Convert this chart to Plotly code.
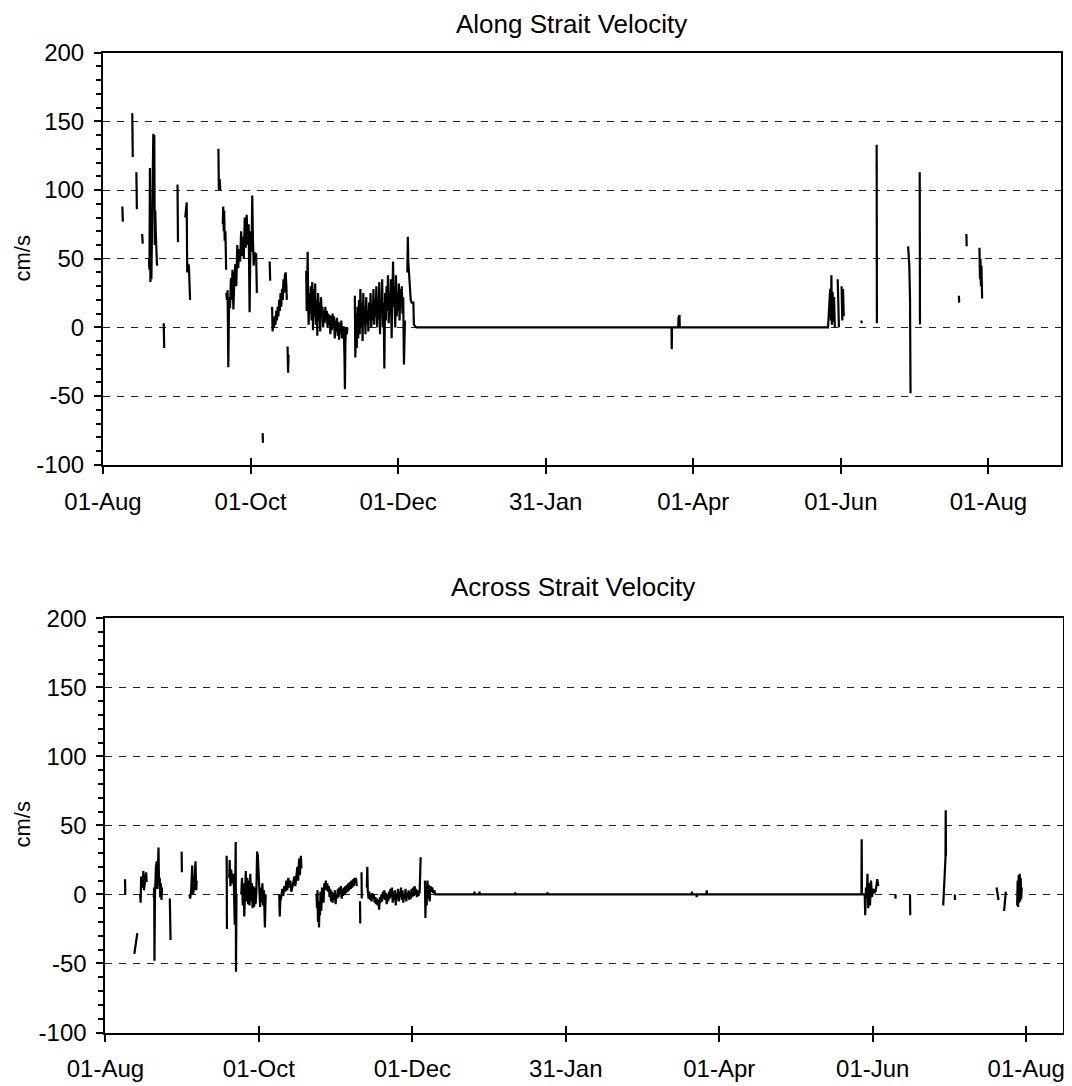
import pandas as pd
import plotly.graph_objects as go

START = "2003-08-01"
tick_dates = ["2003-08-01", "2003-10-01", "2003-12-01", "2004-01-31",
              "2004-04-01", "2004-06-01", "2004-08-01"]
tick_labels = ["01-Aug", "01-Oct", "01-Dec", "31-Jan", "01-Apr", "01-Jun", "01-Aug"]
y_tick_values = [-100, -50, 0, 50, 100, 150, 200]
y_tick_labels = ["-100", "-50", "0", "50", "100", "150", "200"]
y_minor_values = list(range(-100, 201, 10))
top_title = "Along Strait Velocity"
bottom_title = "Across Strait Velocity"
y_label = "cm/s"

# Along-strait velocity: segments of [day since 01-Aug-2003, cm/s]
along_segments = [
    [[8.0, 88], [8.2, 77]],
    [[12.1, 156], [12.3, 124]],
    [[13.8, 113], [14.0, 86]],
    [[16.2, 68], [16.4, 61]],
    [[19.0, 50], [19.2, 42], [19.4, 116], [19.6, 33], [19.8, 55], [20.0, 35], [20.8, 141],
     [21.0, 120], [21.2, 140], [21.4, 60], [21.6, 85], [21.8, 70], [22.0, 47], [22.3, 46], [22.5, 45]],
    [[25.1, 3], [25.3, -15]],
    [[30.8, 104], [31.0, 62]],
    [[34.0, 80], [34.3, 85], [34.6, 91], [34.8, 40], [35.1, 46], [35.5, 45], [36.0, 20]],
    [[47.7, 130], [47.9, 100], [48.2, 108], [48.5, 100]],
    [[49.5, 75], [49.7, 88], [49.9, 70], [50.1, 85], [50.3, 63], [50.6, 70], [50.9, 42]],
    [[51.0, 25], [51.2, 20], [51.5, 27], [51.8, -29], [52.1, 22], [52.5, 14], [52.9, 36], [53.2, 20],
     [53.5, 42], [53.9, 13], [54.3, 35], [54.7, 46], [55.1, 30], [55.5, 60], [55.9, 43], [56.3, 57],
     [56.7, 48], [57.1, 70], [57.5, 52], [57.8, 66], [58.2, 50], [58.6, 80], [59.0, 58], [59.4, 82],
     [59.8, 60], [60.2, 75], [60.6, 11], [61.0, 70], [61.4, 55], [61.7, 96], [62.0, 62], [62.3, 45],
     [62.6, 55], [63.0, 50], [63.3, 54], [63.6, 25]],
    [[66.0, -77], [66.1, -84]],
    [[68.9, 48], [69.1, 34]],
    [[69.9, 15], [70.1, -3], [70.4, 5], [70.7, 0], [71.0, 8], [71.3, 2], [71.6, 12], [71.9, 5],
     [72.2, 15], [72.5, 8], [72.8, 20], [73.1, 12], [73.4, 25], [73.7, 15], [74.0, 28], [74.3, 20],
     [74.6, 35], [74.9, 25], [75.2, 38], [75.5, 40], [75.8, 30], [76.0, 20]],
    [[76.3, -14], [76.5, -33], [76.7, -20]],
    [[84.0, 41], [84.2, 12], [84.4, 30], [84.6, 55], [84.8, 20], [85.0, 2], [85.3, 25], [85.6, 10],
     [85.9, 30], [86.2, 5], [86.5, 33], [86.8, -2], [87.1, 28], [87.4, 8], [87.7, 32], [88.0, 2],
     [88.3, 20], [88.6, -6], [88.9, 25], [89.2, 5], [89.5, 18], [89.8, -3], [90.1, 22], [90.4, 10],
     [90.7, 15], [91.0, 0], [91.3, 12], [91.6, 3], [91.9, 15], [92.2, 5], [92.5, 12], [92.8, 0],
     [93.1, 10], [93.4, 2], [93.7, 9], [94.0, -5], [94.3, 8], [94.6, -2], [94.9, 10], [95.2, 0],
     [95.5, 8], [95.8, -8], [96.1, 5], [96.4, -3], [96.7, 7], [97.0, -6], [97.3, 4], [97.6, -9],
     [97.9, 3], [98.2, -4], [98.5, 5], [98.8, -8], [99.2, 0], [99.5, 0], [99.8, -20], [100.0, -45],
     [100.2, -10], [100.5, 0], [100.8, -5], [101.0, 0]],
    [[104.1, 23], [104.3, -22], [104.6, 10], [104.9, -15], [105.2, 15], [105.5, -8], [105.8, 20],
     [106.1, -5], [106.4, 28], [106.7, 0], [107.0, 18], [107.3, -10], [107.6, 25], [107.9, 2],
     [108.2, 15], [108.5, -5], [108.8, 22], [109.1, 3], [109.4, 12], [109.7, -3], [110.0, 18],
     [110.3, 5], [110.6, 25], [110.9, 0], [111.2, 15], [111.5, 5], [111.8, 28], [112.1, 2],
     [112.4, 20], [112.7, 8], [113.0, 30], [113.3, 0], [113.6, 22], [113.9, 6], [114.2, 33],
     [114.5, -5], [114.8, 20], [115.1, 10], [115.4, 35], [115.7, 0], [116.0, 18], [116.3, -30],
     [116.6, 25], [116.9, 5], [117.2, 30], [117.5, 12], [117.8, 38], [118.1, 3], [118.4, 25],
     [118.7, 10], [119.0, 35], [119.3, -8], [119.6, 20], [119.9, 48], [120.2, 15], [120.5, 30],
     [120.8, 0], [121.1, 38], [121.4, 8], [121.7, 25], [122.0, 12], [122.3, 32], [122.6, 5],
     [122.9, 28], [123.2, 15], [123.5, 30], [123.8, 10], [124.1, 22], [124.4, -27], [124.8, 5]],
    [[125.8, 40], [126.0, 66], [126.2, 48], [126.5, 40], [126.9, 35], [127.2, 20], [127.6, 18],
     [128.3, 18], [128.5, 2], [129.5, 0], [235.0, 0], [235.1, -16], [235.2, 0], [237.8, 0],
     [237.9, 7], [238.3, 9], [238.4, 0], [299.7, 0], [300.2, 15], [300.6, 28], [300.9, 5],
     [301.1, 38], [301.3, 2], [301.6, 26], [301.9, 4], [302.2, 22], [302.5, 0]],
    [[303.7, 35], [304.0, 2], [304.2, 0]],
    [[305.3, 30], [305.6, 5], [305.9, 28], [306.2, 8]],
    [[313.5, 5], [313.6, 3]],
    [[319.8, 133], [319.9, 3]],
    [[332.8, 59], [333.3, 45], [333.6, 20], [333.8, -48]],
    [[337.6, 113], [337.7, 2]],
    [[353.8, 23], [353.9, 18]],
    [[356.9, 68], [357.0, 59]],
    [[362.3, 58], [362.5, 35], [362.7, 50], [362.9, 30], [363.1, 45], [363.4, 21]],
]

# Across-strait velocity: segments of [day since 01-Aug-2003, cm/s]
across_segments = [
    [[7.8, 11], [7.9, 0]],
    [[11.5, -43], [12.7, -28]],
    [[13.8, 0], [14.0, -6], [14.2, 13], [14.7, 5], [15.1, 17], [15.3, 3], [15.8, 10], [16.2, 16], [16.4, 9]],
    [[19.2, -2], [19.4, 5], [19.5, -48], [19.7, 0], [20.1, 20], [20.4, 24], [20.7, 4], [21.1, 34],
     [21.3, 10], [21.6, 12], [21.8, -2], [22.0, 8], [22.3, -4], [22.5, 5]],
    [[25.6, -3], [25.7, -25], [25.8, -22], [25.9, -33]],
    [[30.3, 31], [30.4, 16]],
    [[33.4, 0], [33.7, -3], [34.1, 3], [34.5, 21], [34.8, 0], [35.3, 5], [35.8, 24], [36.1, 3], [36.3, 10]],
    [[48.2, 28], [48.3, -25]],
    [[49.2, 12], [49.4, 25], [49.7, 6], [50.0, 18], [50.4, 8], [50.8, 15], [51.1, 5], [51.4, -22],
     [51.8, 38], [51.9, -56], [52.1, 0]],
    [[54.0, 0], [54.3, 12], [54.6, -8], [54.9, 8], [55.2, -16], [55.5, 6], [55.8, 17], [56.1, -5],
     [56.4, 12], [56.7, -7], [57.0, 10], [57.3, -8], [57.6, 15], [57.9, -5], [58.2, 8], [58.5, -10],
     [58.8, 6], [59.1, -9], [59.4, 5], [59.7, -7], [60.0, 2], [60.3, 31], [60.6, 28], [60.9, 15],
     [61.2, 0], [61.5, -9], [61.8, 5], [62.1, -6], [62.4, 8], [62.7, -8], [63.0, 3], [63.4, -24], [63.7, 0]],
    [[69.1, 0], [69.3, -16], [69.5, -5], [69.9, -2], [70.3, 4], [70.7, -1], [71.1, 6], [71.5, 2],
     [71.9, 10], [72.3, 3], [72.7, 12], [73.1, 5], [73.5, 10], [73.9, 2], [74.3, 5], [74.7, 8],
     [75.1, 13], [75.5, 6], [75.9, 12], [76.3, 20], [76.6, 10], [77.0, 26], [77.3, 14], [77.7, 28], [77.9, 19]],
    [[83.9, 0], [84.1, -10], [84.3, 3], [84.5, -20], [84.7, -5], [84.9, -24], [85.1, -8], [85.3, -15],
     [85.5, 2], [85.8, -12], [86.1, 5], [86.4, 0], [86.7, -6], [87.0, 8], [87.3, 4], [87.6, 10],
     [87.9, 3], [88.2, 8], [88.5, 2], [88.8, 6], [89.1, -2], [89.4, 4], [89.7, -5], [90.0, 2],
     [90.3, -6], [90.6, 1], [90.9, -4], [91.2, 3], [91.5, -7], [91.8, 0], [92.1, -3], [92.4, 4],
     [92.7, -2], [93.0, 5], [93.3, 0], [93.6, 6], [93.9, -3], [94.2, 4], [94.5, -1], [94.8, 5],
     [95.1, 0], [95.4, 6], [95.7, 1], [96.0, 7], [96.3, 2], [96.6, 8], [96.9, 3], [97.2, 9],
     [97.5, 4], [97.8, 10], [98.1, 5], [98.4, 11], [98.7, 6], [99.0, 12], [99.3, 8], [99.6, 12], [99.9, 6]],
    [[101.2, -5], [101.3, -21]],
    [[101.8, 16], [101.85, 12], [101.9, -3]],
    [[103.9, 5], [104.1, 20], [104.3, 2], [104.6, -3], [104.9, 2], [105.2, -4], [105.5, 0], [105.8, -5],
     [106.1, 1], [106.4, -3], [106.7, 0], [107.0, -6], [107.3, -2], [107.6, -7], [107.9, -3],
     [108.2, -8], [108.5, -4], [108.8, -11], [109.1, -2], [109.4, -6], [109.7, 0], [110.0, -5],
     [110.3, 2], [110.6, -3], [110.9, 3], [111.2, -4], [111.5, 1], [111.8, -7], [112.1, 0],
     [112.4, -5], [112.7, 2], [113.0, -3], [113.3, 4], [113.6, -2], [113.9, 5], [114.2, -6],
     [114.5, 2], [114.8, -4], [115.1, 3], [115.4, -8], [115.7, 0], [116.0, -3], [116.3, 4],
     [116.6, -5], [116.9, 2], [117.2, -2], [117.5, 5], [117.8, -4], [118.1, 3], [118.4, -6],
     [118.7, 0], [119.0, -3], [119.3, 4], [119.6, -5], [119.9, 1], [120.2, -2], [120.5, 3],
     [120.8, -4], [121.1, 2], [121.4, -3], [121.7, 4], [122.0, -2], [122.3, 5], [122.6, -1],
     [122.9, 6], [123.2, 0], [123.5, 4], [123.8, -2], [124.1, 3], [124.4, -1], [124.8, 1]],
    [[124.9, 1], [125.1, 15], [125.3, 27]],
    [[127.0, 10], [127.2, -17], [127.4, 5], [127.7, -8], [128.0, 10], [128.3, -3], [128.6, 7],
     [128.9, -5], [129.2, 6], [129.5, 2], [129.9, 5], [130.3, 1], [130.7, 3], [131.1, 0],
     [146.6, 0], [146.7, 2], [146.8, 0], [148.6, 0], [148.7, 2], [148.8, 0], [162.8, 0],
     [162.9, 1.5], [163.0, 0], [175.6, 0], [175.7, 1.5], [175.8, 0], [233.0, 0], [233.1, 2],
     [233.2, 0], [234.9, 0], [235.0, -2], [235.1, 0], [238.9, 0], [239.0, 3], [239.1, 0],
     [300.5, 0], [300.6, 40], [300.7, 0], [301.8, 0], [302.0, -15], [302.3, 5], [302.6, -3],
     [302.9, 15], [303.2, -10], [303.5, 8], [303.9, -8], [304.3, 10], [304.7, -2], [305.2, 4],
     [305.7, 1], [306.2, 3], [306.8, 11], [307.2, 6]],
    [[314.0, 0], [314.1, -3]],
    [[319.8, 0], [319.9, -15]],
    [[333.0, -8], [333.9, 26], [334.0, 61], [334.1, 28]],
    [[337.6, 0], [337.7, -4]],
    [[354.2, 5], [355.0, -4]],
    [[357.2, -12], [357.9, 2]],
    [[362.4, -8], [362.6, 10], [362.8, -9], [363.0, 14], [363.2, -6], [363.4, 15], [363.6, -5],
     [363.8, 12], [364.0, -3], [364.2, 5]],
]


def build(segments):
    origin = pd.Timestamp(START)
    xs, ys = [], []
    for seg in segments:
        for d, v in seg:
            xs.append(origin + pd.Timedelta(days=d))
            ys.append(v)
        xs.append(None)
        ys.append(None)
    return xs, ys


xa, ya = build(along_segments)
xc, yc = build(across_segments)

FONT = "Liberation Sans, Arial, sans-serif"
# The page body adds an 8px margin, so the figure is drawn 8px smaller and
# every layout position below is expressed in page pixels minus that offset.
OFF = 8
W, H = 1072 - OFF, 1086 - OFF


def px_x(p):
    return (p - OFF) / W


def px_y(p):
    return 1 - (p - OFF) / H


TOP_END = "2004-08-31"
BOT_END = "2004-08-15 10:00"

fig = go.Figure()
fig.add_trace(go.Scatter(x=xa, y=ya, mode="lines", line=dict(color="black", width=2.2),
                         xaxis="x", yaxis="y", showlegend=False, hoverinfo="skip"))
fig.add_trace(go.Scatter(x=xc, y=yc, mode="lines", line=dict(color="black", width=2.2),
                         xaxis="x2", yaxis="y2", showlegend=False, hoverinfo="skip"))
# empty traces that carry the inner half of the crossing x tick marks
fig.add_trace(go.Scatter(x=[None], y=[None], xaxis="x3", yaxis="y", showlegend=False,
                         hoverinfo="skip"))
fig.add_trace(go.Scatter(x=[None], y=[None], xaxis="x4", yaxis="y2", showlegend=False,
                         hoverinfo="skip"))


def yax(domain, anchor):
    return dict(domain=domain, anchor=anchor, range=[-100, 200],
                tickmode="array", tickvals=y_tick_values, ticktext=y_tick_labels,
                automargin=False,
                ticks="outside", ticklen=7, tickwidth=2, tickcolor="black",
                showline=True, linecolor="black", linewidth=2, mirror=True,
                showgrid=True, gridcolor="#222222", gridwidth=1, griddash="7px,7px",
                zeroline=False, ticklabelstandoff=5,
                minor=dict(tickmode="array", tickvals=y_minor_values, ticks="outside",
                           ticklen=5, tickwidth=1.5, tickcolor="black", showgrid=False),
                tickfont=dict(family=FONT, size=24, color="black"))


def xax(domain, anchor, end):
    return dict(domain=domain, anchor=anchor, type="date", range=[START, end],
                tickmode="array", tickvals=tick_dates, ticktext=tick_labels, automargin=False,
                ticks="outside", ticklen=7, tickwidth=2, tickcolor="black",
                showline=True, linecolor="black", linewidth=2, mirror=True,
                showgrid=False, zeroline=False, ticklabelstandoff=7,
                tickfont=dict(family=FONT, size=24, color="black"))


def xax_inner(overlay, domain, anchor, end):
    return dict(overlaying=overlay, domain=domain, anchor=anchor, type="date",
                range=[START, end], tickmode="array", tickvals=tick_dates,
                showticklabels=False, automargin=False, ticks="inside", ticklen=7,
                tickwidth=2, tickcolor="black", showline=False, showgrid=False,
                zeroline=False, side="bottom")


fig.update_layout(
    template="none",
    width=W, height=H,
    margin=dict(l=0, r=0, t=0, b=0, autoexpand=False),
    paper_bgcolor="white", plot_bgcolor="white",
    xaxis=xax([px_x(103), px_x(1061)], "y", TOP_END),
    yaxis=yax([px_y(464.7), px_y(52.7)], "x"),
    xaxis2=xax([px_x(105.4), px_x(1062.5)], "y2", BOT_END),
    yaxis2=yax([px_y(1032.5), px_y(618.3)], "x2"),
    xaxis3=xax_inner("x", [px_x(103), px_x(1061)], "y", TOP_END),
    xaxis4=xax_inner("x2", [px_x(105.4), px_x(1062.5)], "y2", BOT_END),
    annotations=[
        dict(text=top_title, x=px_x(571), y=1, xref="paper", yref="paper",
             showarrow=False, xanchor="center", yanchor="top", borderpad=0,
             font=dict(family=FONT, size=26, color="black")),
        dict(text=bottom_title, x=px_x(573), y=px_y(587), xref="paper", yref="paper",
             showarrow=False, xanchor="center", yanchor="middle",
             font=dict(family=FONT, size=26, color="black")),
        dict(text=y_label, x=0, y=px_y(259), xref="paper", yref="paper",
             showarrow=False, xanchor="left", yanchor="middle", textangle=-90, borderpad=0,
             font=dict(family=FONT, size=22, color="black")),
        dict(text=y_label, x=0, y=px_y(825), xref="paper", yref="paper",
             showarrow=False, xanchor="left", yanchor="middle", textangle=-90, borderpad=0,
             font=dict(family=FONT, size=22, color="black")),
    ],
)

fig.write_html("out.html")
